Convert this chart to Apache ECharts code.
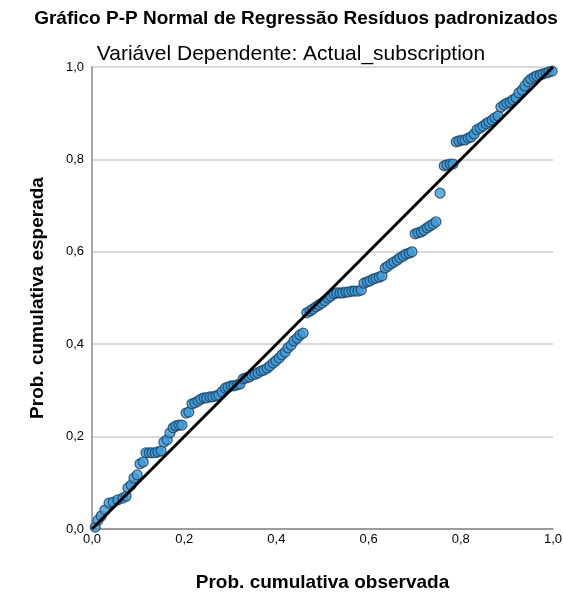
<!DOCTYPE html>
<html>
<head>
<meta charset="utf-8">
<script src="https://cdn.jsdelivr.net/npm/echarts@6/dist/echarts.min.js"></script>
<style>
  html, body { margin: 0; padding: 0; background: #ffffff; }
  #chart { width: 563px; height: 594px; }
</style>
</head>
<body>
<div id="chart"></div>
<script>
const observed = [
  0.007, 0.013, 0.020, 0.028, 0.037, 0.046, 0.056, 0.067, 0.074, 0.078,
  0.085, 0.091, 0.098, 0.104, 0.111, 0.117, 0.124, 0.130, 0.137, 0.143,
  0.150, 0.156, 0.163, 0.169, 0.176, 0.182, 0.189, 0.195, 0.204, 0.210,
  0.217, 0.223, 0.230, 0.236, 0.243, 0.249, 0.256, 0.262, 0.269, 0.275,
  0.282, 0.289, 0.295, 0.302, 0.308, 0.315, 0.321, 0.328, 0.334, 0.341,
  0.347, 0.354, 0.360, 0.367, 0.373, 0.380, 0.386, 0.393, 0.399, 0.406,
  0.412, 0.419, 0.425, 0.432, 0.438, 0.445, 0.451, 0.458, 0.466, 0.473,
  0.479, 0.486, 0.492, 0.499, 0.505, 0.512, 0.518, 0.525, 0.531, 0.538,
  0.544, 0.551, 0.557, 0.564, 0.570, 0.577, 0.584, 0.590, 0.597, 0.603,
  0.610, 0.616, 0.623, 0.629, 0.636, 0.642, 0.649, 0.655, 0.662, 0.668,
  0.675, 0.681, 0.688, 0.694, 0.701, 0.707, 0.714, 0.720, 0.727, 0.733,
  0.740, 0.746, 0.755, 0.764, 0.770, 0.777, 0.783, 0.790, 0.796, 0.803,
  0.809, 0.816, 0.822, 0.829, 0.835, 0.842, 0.848, 0.855, 0.861, 0.868,
  0.874, 0.881, 0.887, 0.894, 0.900, 0.907, 0.913, 0.920, 0.926, 0.933,
  0.939, 0.946, 0.952, 0.959, 0.965, 0.972, 0.978, 0.985, 0.991, 0.998
];
const expected = [
  0.004, 0.019, 0.028, 0.041, 0.056, 0.058, 0.063, 0.067, 0.071, 0.089,
  0.095, 0.110, 0.117, 0.141, 0.145, 0.165, 0.165, 0.165, 0.165, 0.167,
  0.169, 0.188, 0.193, 0.208, 0.219, 0.223, 0.225, 0.225, 0.251, 0.253,
  0.271, 0.273, 0.277, 0.281, 0.284, 0.284, 0.286, 0.286, 0.288, 0.290,
  0.297, 0.305, 0.307, 0.310, 0.310, 0.312, 0.314, 0.325, 0.327, 0.329,
  0.333, 0.335, 0.338, 0.342, 0.344, 0.348, 0.353, 0.359, 0.364, 0.370,
  0.377, 0.383, 0.392, 0.398, 0.407, 0.413, 0.420, 0.424, 0.468, 0.472,
  0.476, 0.481, 0.485, 0.489, 0.494, 0.500, 0.504, 0.509, 0.511, 0.511,
  0.511, 0.513, 0.513, 0.515, 0.515, 0.515, 0.517, 0.532, 0.535, 0.537,
  0.541, 0.543, 0.545, 0.548, 0.565, 0.569, 0.574, 0.578, 0.582, 0.587,
  0.591, 0.595, 0.597, 0.600, 0.639, 0.641, 0.643, 0.647, 0.652, 0.656,
  0.660, 0.665, 0.727, 0.786, 0.788, 0.790, 0.790, 0.838, 0.840, 0.842,
  0.842, 0.846, 0.848, 0.855, 0.864, 0.868, 0.872, 0.877, 0.881, 0.885,
  0.890, 0.894, 0.913, 0.918, 0.922, 0.924, 0.929, 0.933, 0.944, 0.950,
  0.959, 0.968, 0.974, 0.978, 0.981, 0.983, 0.985, 0.987, 0.989, 0.991
];
const diagonal = [[0, 0], [1, 1]];
const tickLabels = ["0,0", "0,2", "0,4", "0,6", "0,8", "1,0"];

const points = observed.map((x, i) => [x, expected[i]]);
const fmt = v => tickLabels[Math.round(v * 5)];

const chart = echarts.init(document.getElementById("chart"));
chart.setOption({
  animation: false,
  textStyle: { fontFamily: "Liberation Sans, Arial, sans-serif" },
  title: [
    {
      text: "Gráfico P-P Normal de Regressão Resíduos padronizados",
      left: 291, textAlign: "center", top: 4,
      textStyle: { fontSize: 19, fontWeight: "bold", color: "#000" }
    },
    {
      text: "Variável Dependente: Actual_subscription",
      left: 286, textAlign: "center", top: 39,
      textStyle: { fontSize: 21, fontWeight: "normal", color: "#000" }
    }
  ],
  grid: { left: 92, right: 10, top: 67, bottom: 65, outerBoundsMode: "none" },
  xAxis: {
    type: "value", min: 0, max: 1, interval: 0.2,
    name: "Prob. cumulativa observada",
    nameLocation: "middle", nameGap: 44,
    nameTextStyle: { fontSize: 19, fontWeight: "bold", color: "#000" },
    axisLine: { lineStyle: { color: "#888", width: 1.5 } },
    axisTick: { show: false },
    axisLabel: { formatter: fmt, color: "#000", fontSize: 13, margin: 4 },
    splitLine: { show: false }
  },
  yAxis: {
    type: "value", min: 0, max: 1, interval: 0.2,
    name: "Prob. cumulativa esperada",
    nameLocation: "middle", nameGap: 45,
    nameTextStyle: { fontSize: 19, fontWeight: "bold", color: "#000" },
    axisLine: { show: true, lineStyle: { color: "#888", width: 1.5 } },
    axisTick: { show: false },
    axisLabel: { formatter: fmt, color: "#000", fontSize: 13, margin: 8 },
    splitLine: { lineStyle: { color: "#cccccc", width: 1.5 } }
  },
  series: [
    {
      type: "line",
      data: diagonal,
      symbol: "none",
      lineStyle: { color: "#000", width: 3 },
      z: 3
    },
    {
      type: "scatter",
      data: points,
      symbol: "circle",
      symbolSize: 10,
      itemStyle: { color: "#3d9ad8", borderColor: "#1a3f5c", borderWidth: 1.2 },
      z: 2
    }
  ]
});
</script>
</body>
</html>
